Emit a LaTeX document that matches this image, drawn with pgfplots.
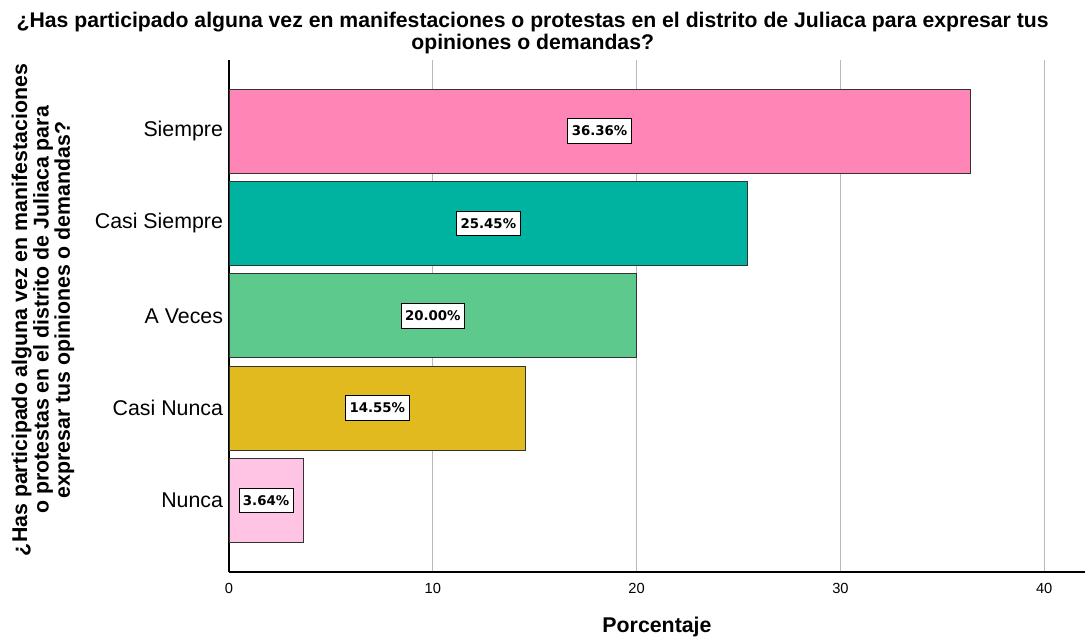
\documentclass[border=0pt]{standalone}
\usepackage{fontspec}
\setmainfont{Liberation Sans}
\newfontfamily\labelfont{DejaVu Sans}
\usepackage{pgfplots}
\pgfplotsset{compat=1.18}
\usetikzlibrary{calc}

\definecolor{cSiempre}{RGB}{255,133,182}
\definecolor{cCasiSiempre}{RGB}{0,178,160}
\definecolor{cAVeces}{RGB}{93,201,140}
\definecolor{cCasiNunca}{RGB}{224,186,30}
\definecolor{cNunca}{RGB}{255,195,228}

\begin{document}
\begin{tikzpicture}
\begin{axis}[
    scale only axis,
    width=642pt, height=384pt,
    clip=false,
    xbar, bar width=0.91, bar shift=0pt,
    xmin=0, xmax=42,
    ymin=-0.775, ymax=4.77,
    axis x line*=bottom, axis y line*=left,
    axis line style={black, line width=0.8pt},
    xtick={0,10,20,30,40},
    ytick={0,1,2,3,4},
    yticklabels={Nunca, Casi Nunca, A Veces, Casi Siempre, Siempre},
    major tick length=0pt,
    xmajorgrids,
    grid style={gray!55, line width=0.6pt},
    /pgf/number format/assume math mode=true,
    xticklabel style={font=\fontsize{11}{12}\selectfont, yshift=-5pt},
    yticklabel style={font=\fontsize{16}{18}\selectfont, xshift=-1pt},
    xlabel={\textbf{Porcentaje}},
    xlabel style={font=\fontsize{16}{18}\selectfont, yshift=-10.5pt},
    every axis plot/.append style={draw=black!80, line width=0.6pt},
    visualization depends on={rawx \as \rawx},
    nodes near coords={\pgfmathprintnumber[fixed, fixed zerofill, precision=2]{\rawx}\%},
    every node near coord/.append style={
        font=\labelfont\fontsize{10}{12}\bfseries, text=black, fill=white, draw=black,
        line width=0.6pt, inner xsep=3pt, inner ysep=5.5pt, anchor=center,
        xshift={-\rawx*7.642857pt}},
]
\addplot[fill=cSiempre] coordinates {(36.36,4)};
\addplot[fill=cCasiSiempre] coordinates {(25.45,3)};
\addplot[fill=cAVeces] coordinates {(20.00,2)};
\addplot[fill=cCasiNunca] coordinates {(14.55,1)};
\addplot[fill=cNunca] coordinates {(3.64,0)};
\coordinate (bl) at (rel axis cs:0,0);
\coordinate (tr) at (rel axis cs:1,1);
\end{axis}
% title, two lines, and the y label
\path (bl |- tr) ++(227.75pt,24pt) node[anchor=base, inner sep=0pt, font=\fontsize{15.9}{18}\selectfont\bfseries]
  {¿Has participado alguna vez en manifestaciones o protestas en el distrito de Juliaca para expresar tus};
\path (bl |- tr) ++(227.75pt,8pt) node[anchor=base, inner sep=0pt, font=\fontsize{15.9}{18}\selectfont\bfseries]
  {opiniones o demandas?};
\path (bl) ++(-139.5pt,196.5pt) node[rotate=90, anchor=center, align=center, inner sep=0pt,
  font=\fontsize{16}{14.8}\selectfont\bfseries]
  {¿Has participado alguna vez en manifestaciones\\o protestas en el distrito de Juliaca para\\expresar tus opiniones o demandas?};
\pgfresetboundingbox
\path[use as bounding box] ($(bl)+(-171.75pt,-50.25pt)$) rectangle ($(tr)+(2.25pt,45pt)$);
\end{tikzpicture}
\end{document}
